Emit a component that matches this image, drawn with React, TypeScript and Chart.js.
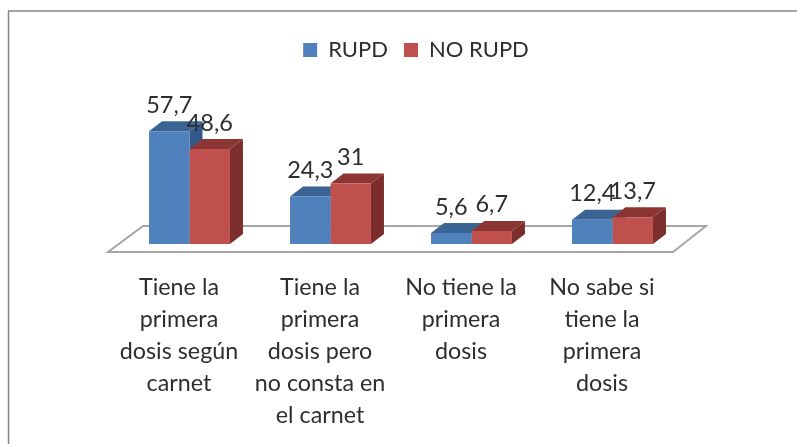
import React, { useEffect, useRef } from "react";
import { Chart, registerables } from "chart.js";

Chart.register(...registerables);

const categories: string[][] = [
  ["Tiene la", "primera", "dosis según", "carnet"],
  ["Tiene la", "primera", "dosis pero", "no consta en", "el carnet"],
  ["No tiene la", "primera", "dosis"],
  ["No sabe si", "tiene la", "primera", "dosis"],
];
const rupd = [57.7, 24.3, 5.6, 12.4];
const noRupd = [48.6, 31, 6.7, 13.7];

const FONT = "Lato, 'Open Sans', sans-serif";
const TEXT = "#2e2e2e";
const DX = 13;
const DY = -10;
const faces = [
  { side: "#34588a", top: "#3a6494" },
  { side: "#7b2e2c", top: "#8c3533" },
];

function poly(ctx: CanvasRenderingContext2D, pts: number[][], fill: string) {
  ctx.beginPath();
  pts.forEach(([x, y], i) => (i ? ctx.lineTo(x, y) : ctx.moveTo(x, y)));
  ctx.closePath();
  ctx.fillStyle = fill;
  ctx.fill();
}

const depthPlugin = {
  id: "depth",
  afterLayout(chart: any) {
    chart.legend.left += 15;
    chart.legend.right += 15;
  },
  beforeDraw(chart: any) {
    const { ctx, width } = chart;
    ctx.save();
    ctx.strokeStyle = "#868686";
    ctx.lineWidth = 1.5;
    ctx.beginPath();
    ctx.moveTo(8.5, chart.height);
    ctx.lineTo(8.5, 11);
    ctx.lineTo(width, 11);
    ctx.stroke();
    ctx.restore();
  },
  beforeDatasetsDraw(chart: any) {
    const { ctx, chartArea: a } = chart;
    ctx.save();
    // floor
    ctx.strokeStyle = "#a6a6a6";
    ctx.lineWidth = 2;
    ctx.beginPath();
    ctx.moveTo(a.left - 11, a.bottom + 8);
    ctx.lineTo(a.right - 10, a.bottom + 8);
    ctx.lineTo(a.right + 23, a.bottom - 18);
    ctx.lineTo(a.left + 24, a.bottom - 18);
    ctx.closePath();
    ctx.stroke();
    // side and top faces
    chart.data.datasets.forEach((_: any, d: number) => {
      chart.getDatasetMeta(d).data.forEach((bar: any) => {
        const w = bar.width / 2;
        const l = bar.x - w;
        const r = bar.x + w;
        const t = bar.y;
        const b = bar.base;
        poly(ctx, [[r, t], [r + DX, t + DY], [r + DX, b + DY], [r, b]], faces[d].side);
        poly(ctx, [[l, t], [l + DX, t + DY], [r + DX, t + DY], [r, t]], faces[d].top);
      });
    });
    ctx.restore();
  },
  afterDatasetsDraw(chart: any) {
    const { ctx } = chart;
    ctx.save();
    ctx.font = `23.5px ${FONT}`;
    ctx.fillStyle = TEXT;
    ctx.textAlign = "center";
    ctx.textBaseline = "middle";
    chart.data.datasets.forEach((ds: any, d: number) => {
      chart.getDatasetMeta(d).data.forEach((bar: any, i: number) => {
        ctx.fillText(String(ds.data[i]).replace(".", ","), bar.x, bar.y - 26);
      });
    });
    ctx.restore();
  },
};

export default function App() {
  const ref = useRef<HTMLCanvasElement>(null);
  useEffect(() => {
    const chart = new Chart(ref.current!, {
      type: "bar",
      data: {
        labels: categories,
        datasets: [
          { label: "RUPD", data: rupd, backgroundColor: "#4f81bd" },
          { label: "NO RUPD", data: noRupd, backgroundColor: "#c0504d" },
        ],
      },
      options: {
        responsive: false,
        animation: false,
        layout: { padding: { top: 23, left: 119, right: 114, bottom: 0 } },
        datasets: { bar: { categoryPercentage: 0.574, barPercentage: 1 } },
        scales: {
          x: {
            grid: { display: false },
            border: { display: false },
            afterFit: (s: any) => {
              s.height = 200;
            },
            ticks: {
              maxRotation: 0,
              autoSkip: false,
              color: TEXT,
              padding: 19,
              labelOffset: -10.5,
              font: { family: FONT, size: 23.3, lineHeight: "32px" },
            },
          },
          y: { display: false, min: 0, max: 88.5 },
        },
        plugins: {
          tooltip: { enabled: false },
          legend: {
            position: "top",
            labels: {
              boxWidth: 14,
              boxHeight: 14,
              padding: 16,
              color: TEXT,
              font: { family: FONT, size: 22 },
            },
          },
        },
      },
      plugins: [depthPlugin],
    } as any);
    return () => chart.destroy();
  }, []);
  return (
    <canvas
      ref={ref}
      width={797}
      height={444}
      style={{ position: "absolute", left: 0, top: 0, width: 797, height: 444, filter: "blur(0.4px)" }}
    />
  );
}
